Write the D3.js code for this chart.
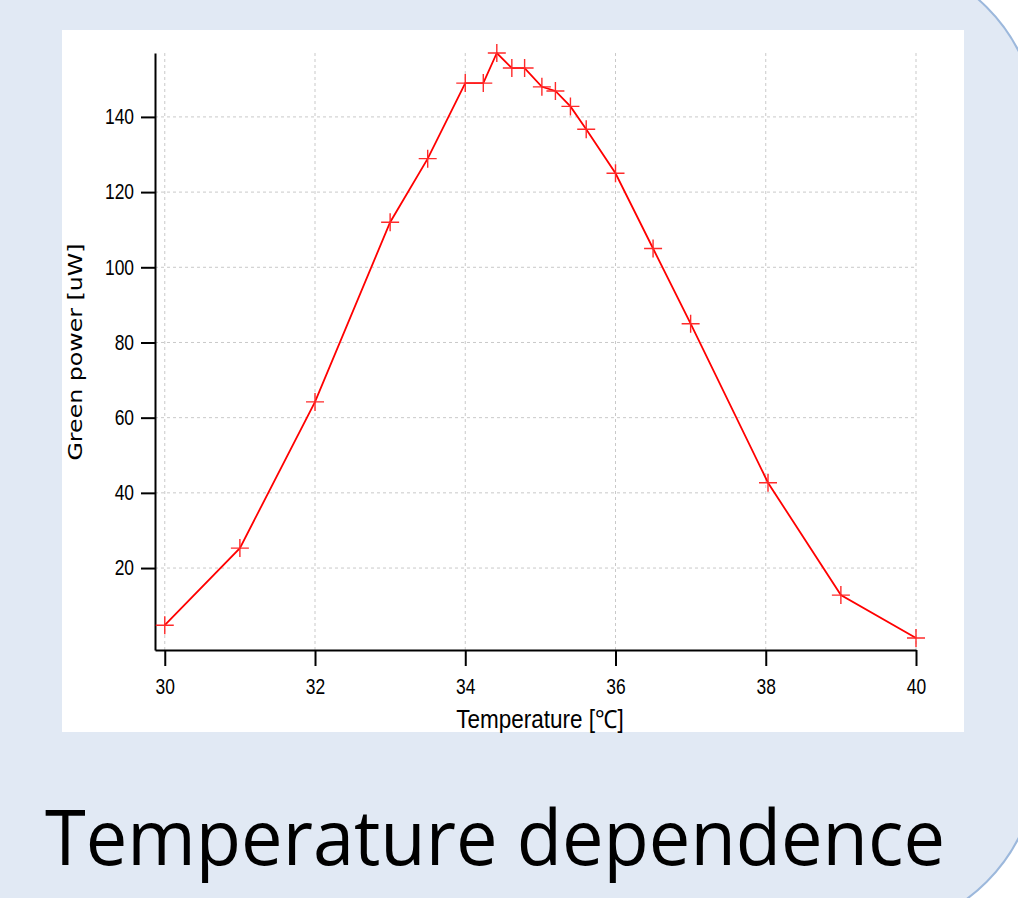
<!DOCTYPE html>
<html>
<head>
<meta charset="utf-8">
<script src="https://cdn.jsdelivr.net/npm/d3@7"></script>
<style>
  body { margin: 0; background: #ffffff; }
  svg { display: block; }
</style>
</head>
<body>
<svg id="chart"></svg>
<script>
// measured points: temperature (deg C) vs green power (uW)
const temps = [30, 31, 32, 33, 33.5, 34, 34.24, 34.42, 34.62, 34.79, 35.02, 35.2, 35.4, 35.61, 36, 36.5, 37, 38.03, 39, 40];
const power = [4.8, 25.3, 64.2, 112, 128.9, 149, 149, 157, 153, 153, 148, 146.9, 142.8, 136.7, 125, 105, 85, 42.7, 12.8, 1.4];

const xTicks = [30, 32, 34, 36, 38, 40];
const yTicks = [20, 40, 60, 80, 100, 120, 140];

const data = temps.map((t, i) => ({ t: t, p: power[i] }));

const W = 1018, H = 898;
const svg = d3.select('#chart').attr('width', W).attr('height', H);

// slide background: big rounded box, only its right side shows
svg.append('rect')
  .attr('x', -200).attr('y', -44)
  .attr('width', 1238).attr('height', 977)
  .attr('rx', 175).attr('ry', 175)
  .attr('fill', '#e1e9f4')
  .attr('stroke', '#9cb8dc')
  .attr('stroke-width', 2);

// white plot panel
svg.append('rect')
  .attr('x', 62).attr('y', 30)
  .attr('width', 902).attr('height', 702)
  .attr('fill', '#ffffff');

const plot = { left: 155, right: 916, top: 53, bottom: 650 };

const x = d3.scaleLinear().domain([29.87, 40]).range([plot.left, plot.right]);
const y = d3.scaleLinear().domain([-1.8, 157]).range([plot.bottom, plot.top]);

// no narrow face installed, so squeeze regular glyphs horizontally
const narrow = "'Liberation Sans', Arial, sans-serif";
const squeeze = 0.81;

// grid
const grid = svg.append('g').attr('class', 'grid');
grid.selectAll('.gy').data(yTicks).join('line')
  .attr('x1', plot.left).attr('x2', plot.right)
  .attr('y1', d => y(d)).attr('y2', d => y(d))
  .attr('stroke', '#c9c9c9').attr('stroke-width', 1)
  .attr('stroke-dasharray', '3,3');
grid.selectAll('.gx').data(xTicks).join('line')
  .attr('x1', d => x(d)).attr('x2', d => x(d))
  .attr('y1', plot.top).attr('y2', plot.bottom)
  .attr('stroke', '#c9c9c9').attr('stroke-width', 1)
  .attr('stroke-dasharray', '3,3');

// axes
const xAxis = d3.axisBottom(x).tickValues(xTicks).tickSize(16).tickSizeOuter(0).tickPadding(13);
const yAxis = d3.axisLeft(y).tickValues(yTicks).tickSize(14).tickSizeOuter(0).tickPadding(7);

const xg = svg.append('g')
  .attr('transform', `translate(0,${plot.bottom})`)
  .call(xAxis);
const yg = svg.append('g')
  .attr('transform', `translate(${plot.left},0)`)
  .call(yAxis);

[xg, yg].forEach(g => {
  g.select('.domain').attr('stroke', '#000').attr('stroke-width', 2);
  g.selectAll('.tick line').attr('stroke', '#000').attr('stroke-width', 2);
  g.selectAll('.tick text')
    .attr('fill', '#000')
    .style('font-family', narrow)
    .style('font-size', '21.5px');
});
// y labels sit at x = -(size+padding); divide so the squeeze keeps the right edge
yg.selectAll('.tick text')
  .attr('x', -21 / squeeze)
  .attr('transform', `scale(${squeeze},1)`);
xg.selectAll('.tick text')
  .attr('transform', `scale(${squeeze},1)`);

// data line
svg.append('path')
  .datum(data)
  .attr('fill', 'none')
  .attr('stroke', '#ff0000')
  .attr('stroke-width', 1.8)
  .attr('d', d3.line().x(d => x(d.t)).y(d => y(d.p)));

// plus markers
svg.append('g').selectAll('path')
  .data(data)
  .join('path')
  .attr('transform', d => `translate(${x(d.t)},${y(d.p)})`)
  .attr('d', 'M-9,0H9M0,-9V9')
  .attr('stroke', '#ff2a2a')
  .attr('stroke-width', 1.4)
  .attr('fill', 'none');

// axis titles
svg.append('text')
  .attr('transform', 'translate(540,728) scale(0.9,1)')
  .attr('text-anchor', 'middle')
  .style('font-family', narrow)
  .style('font-size', '25px')
  .attr('fill', '#000')
  .text('Temperature [℃]');

svg.append('text')
  .attr('transform', 'translate(82,352) rotate(-90)')
  .attr('text-anchor', 'middle')
  .attr('textLength', 217)
  .attr('lengthAdjust', 'spacingAndGlyphs')
  .style('font-family', "'DejaVu Sans', sans-serif")
  .style('font-size', '20px')
  .attr('fill', '#000')
  .text('Green power [uW]');

// slide caption
svg.append('text')
  .attr('x', 45).attr('y', 865)
  .attr('textLength', 900)
  .attr('lengthAdjust', 'spacingAndGlyphs')
  .style('font-family', "'Open Sans', 'Noto Sans', sans-serif")
  .style('font-size', '77px')
  .attr('fill', '#000')
  .text('Temperature dependence');
</script>
</body>
</html>
